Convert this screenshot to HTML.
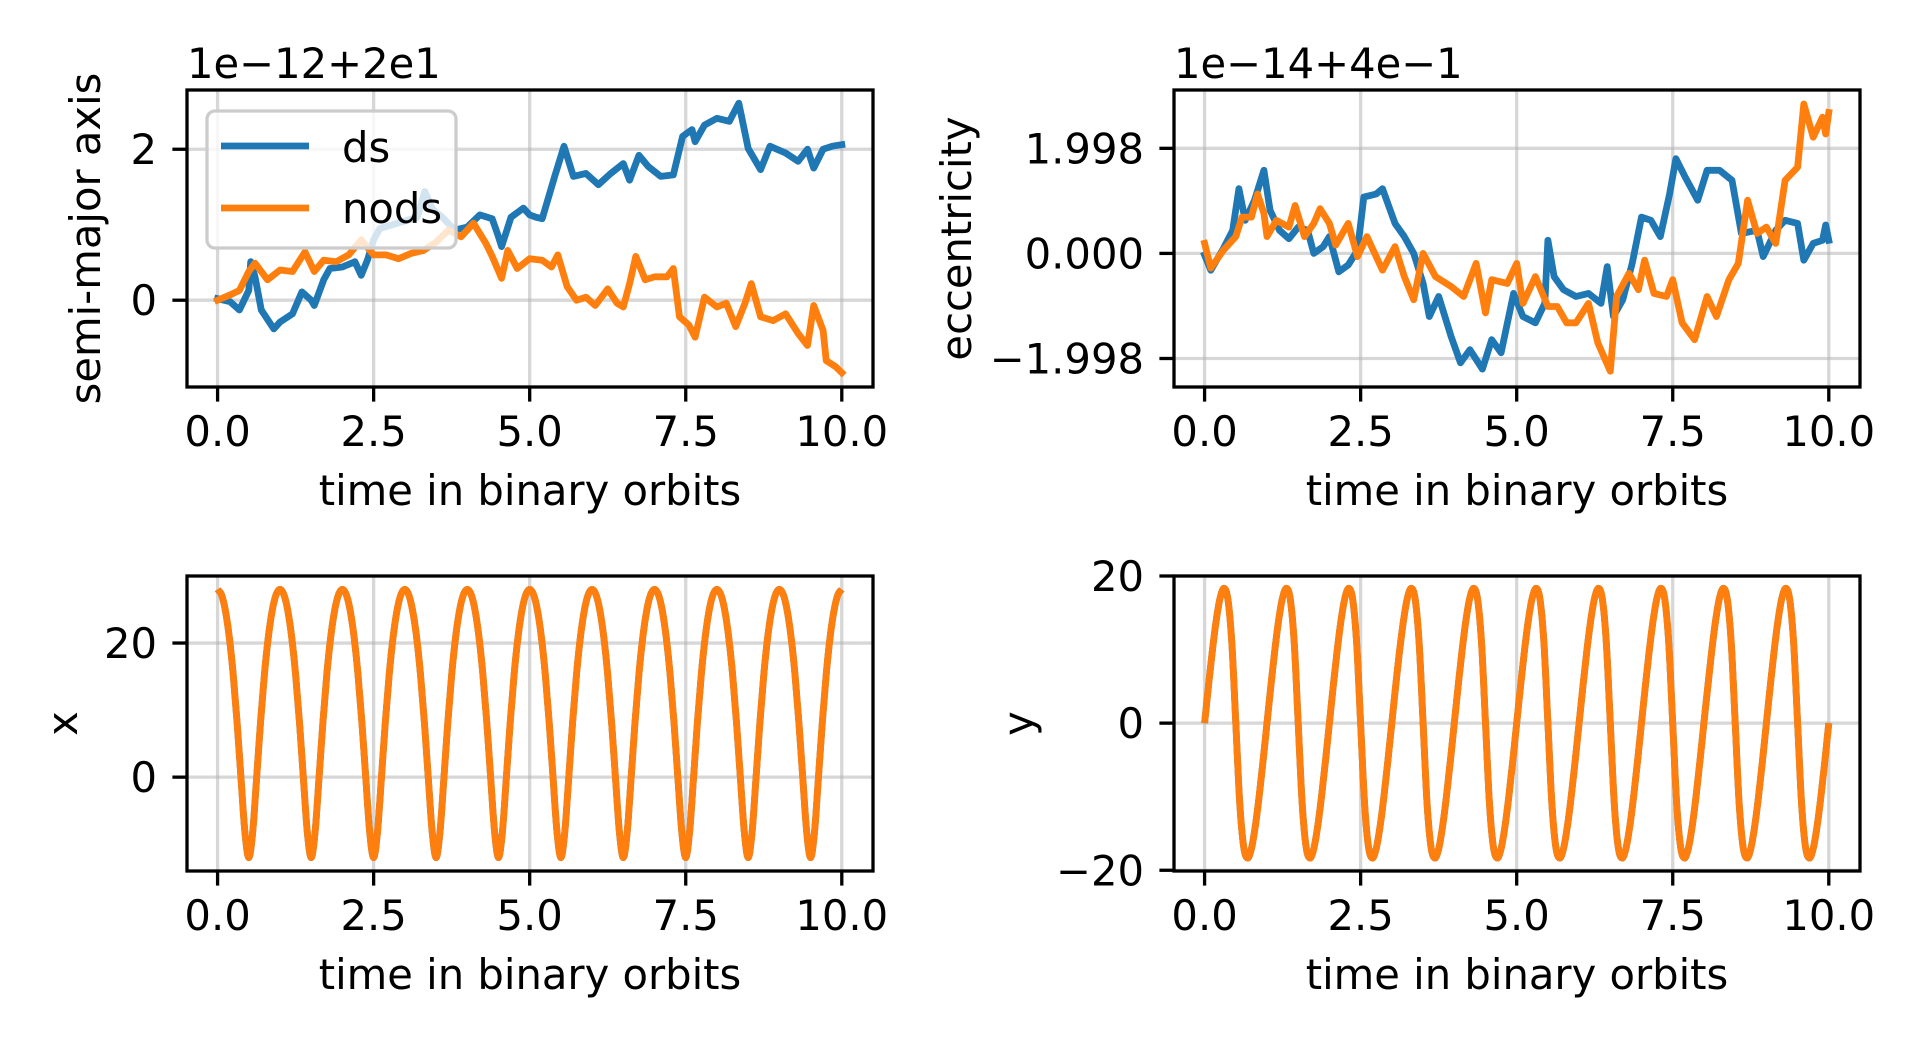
<!DOCTYPE html>
<html><head><meta charset="utf-8">
<style>
html,body{margin:0;padding:0;background:#fff;}
svg{display:block;}
text{font-family:"DejaVu Sans","Liberation Sans",sans-serif;font-size:41.7px;fill:#000;}
</style></head>
<body>
<svg id="fig" width="1920" height="1046" viewBox="0 0 1920 1046" xmlns="http://www.w3.org/2000/svg"></svg>
<script>
// ---------- data ----------
const xTickValues = [0, 2.5, 5, 7.5, 10];
const xTickLabels = ["0.0", "2.5", "5.0", "7.5", "10.0"];

// semi-major axis (units of 1e-12, offset 2e1)
const smaTimes = [0,0.2,0.35,0.5,0.53,0.6,0.7,0.9,1.0,1.2,1.35,1.5,1.55,1.7,1.8,2.0,2.2,2.3,2.4,2.5,2.6,2.8,3.0,3.2,3.32,3.45,3.6,3.8,4.0,4.2,4.4,4.5,4.55,4.7,4.9,5.0,5.1,5.2,5.4,5.55,5.7,5.9,6.1,6.3,6.5,6.6,6.75,6.9,7.1,7.3,7.45,7.6,7.65,7.8,8.0,8.2,8.35,8.5,8.7,8.85,9.1,9.3,9.45,9.55,9.7,9.85,10];
const smaDs = [0.02,-0.02,-0.13,0.13,0.51,0.31,-0.13,-0.38,-0.29,-0.18,0.11,0,-0.07,0.27,0.42,0.44,0.51,0.33,0.53,0.80,0.95,1.0,1.05,1.1,1.44,1.2,1.1,0.93,0.97,1.13,1.08,0.84,0.71,1.1,1.22,1.13,1.1,1.08,1.64,2.04,1.64,1.68,1.53,1.68,1.81,1.59,1.92,1.77,1.64,1.66,2.17,2.26,2.1,2.32,2.41,2.37,2.61,2.01,1.73,2.04,1.95,1.84,2.0,1.75,2.0,2.04,2.06];
const smaNodsTimes = [0,0.2,0.35,0.5,0.6,0.8,1.0,1.2,1.4,1.55,1.7,1.9,2.1,2.3,2.5,2.7,2.9,3.1,3.3,3.5,3.7,3.9,4.1,4.3,4.4,4.55,4.65,4.8,5.0,5.2,5.35,5.45,5.6,5.75,5.9,6.05,6.25,6.4,6.5,6.6,6.7,6.85,7.0,7.2,7.3,7.4,7.55,7.65,7.8,8.0,8.15,8.3,8.45,8.55,8.7,8.9,9.1,9.3,9.45,9.55,9.7,9.75,9.9,10];
const smaNods = [0,0.07,0.13,0.38,0.49,0.27,0.4,0.38,0.64,0.38,0.53,0.51,0.6,0.8,0.6,0.6,0.55,0.62,0.66,0.77,0.93,0.84,1.02,0.75,0.58,0.29,0.66,0.42,0.55,0.53,0.44,0.6,0.18,0,0.04,-0.07,0.15,-0.04,-0.09,0.22,0.58,0.27,0.31,0.31,0.42,-0.22,-0.33,-0.49,0.04,-0.09,-0.04,-0.35,-0.04,0.22,-0.22,-0.27,-0.18,-0.44,-0.6,-0.07,-0.4,-0.8,-0.88,-0.96];

// eccentricity (units of 1e-14, offset 4e-1)
const eccDsTimes = [0,0.1,0.3,0.45,0.55,0.65,0.8,0.95,1.05,1.2,1.35,1.5,1.65,1.75,1.9,2.0,2.15,2.3,2.45,2.55,2.75,2.85,3.05,3.2,3.35,3.5,3.6,3.75,3.95,4.1,4.25,4.45,4.6,4.75,4.95,5.1,5.3,5.45,5.5,5.6,5.75,5.95,6.15,6.35,6.45,6.55,6.7,6.85,7.0,7.15,7.3,7.45,7.55,7.7,7.9,8.05,8.25,8.45,8.6,8.85,8.95,9.15,9.3,9.5,9.6,9.75,9.9,9.95,10];
const eccDs = [-0.03,-0.32,0.09,0.44,1.23,0.63,1.01,1.58,0.82,0.44,0.28,0.5,0.44,0,0.13,0.32,-0.35,-0.22,0.06,1.07,1.13,1.23,0.57,0.32,0,-0.57,-1.2,-0.82,-1.58,-2.08,-1.83,-2.2,-1.64,-1.89,-0.76,-1.2,-1.32,-0.95,0.25,-0.44,-0.69,-0.82,-0.76,-0.95,-0.25,-1.2,-0.88,-0.19,0.69,0.63,0.32,1.13,1.8,1.45,1.01,1.58,1.58,1.39,0.38,0.44,-0.06,0.44,0.63,0.57,-0.13,0.19,0.25,0.54,0.25];
const eccNodsTimes = [0,0.1,0.3,0.5,0.6,0.75,0.85,0.95,1.0,1.15,1.35,1.45,1.6,1.75,1.85,2.0,2.1,2.3,2.45,2.6,2.85,3.05,3.2,3.35,3.5,3.7,3.95,4.15,4.35,4.5,4.6,4.85,5.0,5.1,5.3,5.5,5.65,5.8,5.95,6.15,6.3,6.5,6.6,6.8,6.95,7.05,7.2,7.4,7.5,7.65,7.85,8.05,8.2,8.4,8.55,8.7,8.85,9.0,9.15,9.3,9.5,9.6,9.75,9.9,9.95,10];
const eccNods = [0.19,-0.28,0.06,0.32,0.69,0.69,1.13,0.76,0.32,0.63,0.5,0.91,0.32,0.57,0.85,0.57,0.16,0.57,-0.06,0.32,-0.32,0.13,-0.44,-0.88,0,-0.44,-0.63,-0.82,-0.19,-1.13,-0.5,-0.57,-0.19,-0.95,-0.44,-1.01,-1.01,-1.32,-1.32,-0.95,-1.7,-2.24,-0.82,-0.38,-0.69,-0.13,-0.76,-0.82,-0.5,-1.32,-1.64,-0.82,-1.2,-0.5,-0.19,1.01,0.38,0.5,0.19,1.39,1.64,2.84,2.21,2.59,2.27,2.68];

// position over one orbit, sampled every 1/16 orbit (repeats for each of 10 orbits)
const orbitX = [28,27.21,24.84,20.87,15.30,8.15,-0.16,-8.19,-12,-8.19,-0.16,8.15,15.30,20.87,24.84,27.21];
const orbitY = [0,5.09,9.89,14.03,17.07,18.33,16.74,10.77,0,-10.77,-16.74,-18.33,-17.07,-14.03,-9.89,-5.09];
const nOrbits = 10;

// ---------- drawing ----------
const NS = "http://www.w3.org/2000/svg";
const svg = document.getElementById("fig");
function el(tag, attrs, parent) {
  const e = document.createElementNS(NS, tag);
  for (const k in attrs) e.setAttribute(k, attrs[k]);
  (parent || svg).appendChild(e);
  return e;
}
const BLUE = "#1f77b4", ORANGE = "#ff7f0e";
const TICK = 14.6, LW = 6.8;

function makeAxes(cfg) {
  const g = el("g", {});
  
  
  const sx = t => cfg.left + (t - cfg.xlim[0]) / (cfg.xlim[1] - cfg.xlim[0]) * (cfg.right - cfg.left);
  const sy = v => cfg.bottom - (v - cfg.ylim[0]) / (cfg.ylim[1] - cfg.ylim[0]) * (cfg.bottom - cfg.top);
  const clipId = cfg.name + "-clip";
  const cp = el("clipPath", {id: clipId}, g);
  el("rect", {x: cfg.left, y: cfg.top, width: cfg.right - cfg.left, height: cfg.bottom - cfg.top}, cp);
  xTickValues.forEach(t => {
    const l = el("line", {x1: sx(t), x2: sx(t), y1: cfg.top, y2: cfg.bottom, stroke: "#b0b0b0", "stroke-opacity": 0.5, "stroke-width": 3.3}, g);
    
    
  });
  cfg.yticks.forEach(v => {
    const l = el("line", {x1: cfg.left, x2: cfg.right, y1: sy(v), y2: sy(v), stroke: "#b0b0b0", "stroke-opacity": 0.5, "stroke-width": 3.3}, g);
    
    
  });
  return {g, sx, sy, clipId, cfg};
}
function finishAxes(ax) {
  const {g, sx, sy, cfg} = ax;
  const sp = el("rect", {x: cfg.left, y: cfg.top, width: cfg.right - cfg.left, height: cfg.bottom - cfg.top, fill: "none", stroke: "#000", "stroke-width": 3.3}, g);
  
  
  xTickValues.forEach((t, i) => {
    el("line", {x1: sx(t), x2: sx(t), y1: cfg.bottom, y2: cfg.bottom + TICK, stroke: "#000", "stroke-width": 3.3}, g);
    const tx = el("text", {x: sx(t), y: cfg.bottom + 59, "text-anchor": "middle"}, g);
    tx.textContent = xTickLabels[i];
    
    
  });
  cfg.yticks.forEach((v, i) => {
    el("line", {x1: cfg.left - TICK, x2: cfg.left, y1: sy(v), y2: sy(v), stroke: "#000", "stroke-width": 3.3}, g);
    const tx = el("text", {x: cfg.left - 30, y: sy(v) + 15, "text-anchor": "end"}, g);
    tx.textContent = cfg.ytickLabels[i];
    
    
  });
  const xl = el("text", {x: (cfg.left + cfg.right) / 2, y: cfg.bottom + 118, "text-anchor": "middle"}, g);
  xl.textContent = "time in binary orbits";
  
  
  const cy = (cfg.top + cfg.bottom) / 2;
  const yl = el("text", {x: cfg.ylabelX, y: cy, "text-anchor": "middle", transform: `rotate(-90 ${cfg.ylabelX} ${cy})`}, g);
  yl.textContent = cfg.ylabel;
  
  
  if (cfg.offset) {
    const ot = el("text", {x: cfg.left, y: cfg.top - 12}, g);
    ot.textContent = cfg.offset;
    
    
  }
}
function polyline(ax, ts, vs, color, name) {
  const pts = ts.map((t, i) => ax.sx(t).toFixed(1) + "," + ax.sy(vs[i]).toFixed(1)).join(" ");
  const p = el("polyline", {points: pts, fill: "none", stroke: color, "stroke-width": LW, "stroke-linejoin": "round", "stroke-linecap": "square", "clip-path": `url(#${ax.clipId})`}, ax.g);
  
  
}
function smoothLine(ax, orbit, color, name) {
  const n = orbit.length, pts = [];
  for (let k = 0; k <= n * nOrbits; k++) pts.push([ax.sx(k / n), ax.sy(orbit[k % n])]);
  const get = i => pts[Math.max(0, Math.min(pts.length - 1, i))];
  let d = "M" + pts[0][0].toFixed(1) + "," + pts[0][1].toFixed(1);
  for (let i = 0; i < pts.length - 1; i++) {
    const p0 = get(i - 1), p1 = get(i), p2 = get(i + 1), p3 = get(i + 2);
    const c1 = [p1[0] + (p2[0] - p0[0]) / 6, p1[1] + (p2[1] - p0[1]) / 6];
    const c2 = [p2[0] - (p3[0] - p1[0]) / 6, p2[1] - (p3[1] - p1[1]) / 6];
    d += `C${c1[0].toFixed(1)},${c1[1].toFixed(1)} ${c2[0].toFixed(1)},${c2[1].toFixed(1)} ${p2[0].toFixed(1)},${p2[1].toFixed(1)}`;
  }
  const p = el("path", {d, fill: "none", stroke: color, "stroke-width": LW, "stroke-linejoin": "round", "clip-path": `url(#${ax.clipId})`}, ax.g);
  
  
}

const XL = [-0.49, 10.5];
const a1 = makeAxes({name: "semi-major-axis-panel", left: 187, right: 873, top: 90, bottom: 387, xlim: XL, ylim: [-1.15, 2.785],
  yticks: [0, 2], ytickLabels: ["0", "2"], ylabel: "semi-major axis", ylabelX: 100, offset: "1e\u221212+2e1"});
polyline(a1, smaTimes, smaDs, BLUE, "ds-line");
polyline(a1, smaNodsTimes, smaNods, ORANGE, "nods-line");
finishAxes(a1);
const lg = el("g", {});


el("rect", {x: 207, y: 111, width: 249, height: 137, rx: 8, fill: "#fff", "fill-opacity": 0.8, stroke: "#cccccc", "stroke-width": 3.3}, lg);
el("line", {x1: 221, x2: 309, y1: 146, y2: 146, stroke: BLUE, "stroke-width": LW}, lg);
el("line", {x1: 221, x2: 309, y1: 208, y2: 208, stroke: ORANGE, "stroke-width": LW}, lg);
const lt1 = el("text", {x: 342, y: 162}, lg); lt1.textContent = "ds";


const lt2 = el("text", {x: 342, y: 223}, lg); lt2.textContent = "nods";



const a2 = makeAxes({name: "eccentricity-panel", left: 1174, right: 1860, top: 90, bottom: 387, xlim: XL, ylim: [-2.54, 3.107],
  yticks: [-1.998, 0, 1.998], ytickLabels: ["\u22121.998", "0.000", "1.998"], ylabel: "eccentricity", ylabelX: 971, offset: "1e\u221214+4e\u22121"});
polyline(a2, eccDsTimes, eccDs, BLUE, "ds-line");
polyline(a2, eccNodsTimes, eccNods, ORANGE, "nods-line");
finishAxes(a2);

const a3 = makeAxes({name: "x-position-panel", left: 187, right: 873, top: 576, bottom: 871, xlim: XL, ylim: [-14.0, 30.0],
  yticks: [0, 20], ytickLabels: ["0", "20"], ylabel: "x", ylabelX: 77});
smoothLine(a3, orbitX, BLUE, "ds-line");
smoothLine(a3, orbitX, ORANGE, "nods-line");
finishAxes(a3);

const a4 = makeAxes({name: "y-position-panel", left: 1174, right: 1860, top: 576, bottom: 871, xlim: XL, ylim: [-20.1, 20.0],
  yticks: [-20, 0, 20], ytickLabels: ["\u221220", "0", "20"], ylabel: "y", ylabelX: 1033});
smoothLine(a4, orbitY, BLUE, "ds-line");
smoothLine(a4, orbitY, ORANGE, "nods-line");
finishAxes(a4);
</script>
</body></html>
